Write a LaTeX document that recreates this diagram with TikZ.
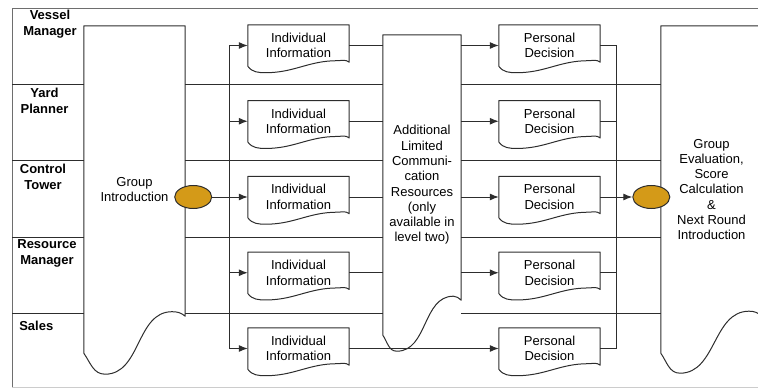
\documentclass[tikz,border=0pt]{standalone}
\usepackage{fontspec}
\setmainfont{Liberation Sans}
\usepackage{tikz}
\usetikzlibrary{shapes.geometric}
\usetikzlibrary{arrows.meta}
\usetikzlibrary{calc}

\definecolor{lineclr}{RGB}{45,45,45}
\definecolor{frameclr}{RGB}{110,110,110}
\definecolor{tokenclr}{RGB}{212,154,24}

% outline of a document box: node, rise of right end, trough pos, trough dip, crest pos, crest height
\newcommand{\docoutline}[6]{%
  \draw[flow, line join=round]
    (#1.south west) -- (#1.north west) -- (#1.north east)
    -- ([yshift=#2pt]#1.south east)
    to[out=140,in=0] ($(#1.south west)!#5!(#1.south east)+(0,#6)$)
    to[out=180,in=0] ($(#1.south west)!#3!(#1.south east)+(0,-#4)$)
    to[out=180,in=-55] (#1.south west) -- cycle;
}

\begin{document}
\begin{tikzpicture}[x=1pt,y=1pt,
  font=\fontsize{13}{15.3}\selectfont,
  flow/.style={draw=lineclr,line width=1pt},
  arr/.style={flow,-{Latex[length=9pt,width=7pt]}},
  doc/.style={minimum width=101pt,minimum height=41pt,inner sep=0pt,align=center},
  bigdoc/.style={inner sep=0pt,align=center},
  token/.style={ellipse,draw=lineclr,line width=1pt,fill=tokenclr,minimum width=37pt,minimum height=23pt,inner sep=0pt},
  lanelabel/.style={font=\fontsize{13}{16}\selectfont\bfseries,align=center}]
\useasboundingbox (0,0) rectangle (758,389);

% frame
\draw[frameclr,line width=1pt] (770,380) -- (12,380) -- (12,2);
\draw[black!20,line width=1pt] (12,2) -- (770,2);

% lane labels
\foreach \txt/\xx/\yy [count=\i] in {{Vessel\\Manager}/50/365,{Yard\\Planner}/44.5/288,{Control\\Tower}/43/212,{Resource\\Manager}/47/135.5,{Sales}/36.3/63}
{
        \node[lanelabel] (lab\i) at (\xx,\yy) {\txt};
}

% big boxes
\node[bigdoc,minimum width=101pt,minimum height=327pt] (intro) at (134.5,199.5) {Group\\Introduction};
\node[bigdoc,minimum width=78pt,minimum height=300pt] (addl) at (422,204)
        {Additional\\Limited\\Communi-\\cation\\Resources\\(only\\available in\\level two)};
\node[bigdoc,minimum width=101pt,minimum height=327pt] (eval) at (711.5,199.5)
        {Group\\Evaluation,\\Score\\Calculation\\\&\\Next Round\\Introduction};
\docoutline{intro}{37}{0.21}{21}{0.87}{41.5}
\docoutline{addl}{35}{0.18}{16}{0.9}{39}
\docoutline{eval}{37}{0.19}{20}{0.87}{42}

% rows
\foreach \i in {1,...,5}
{
        \pgfmathsetmacro{\rowy}{343.5-75.75*(\i-1)}
        \node[doc] (ii\i) at (298.5,\rowy) {Individual\\Information};
        \node[doc] (pd\i) at (549.5,\rowy) {Personal\\Decision};
        \docoutline{ii\i}{4}{0.18}{6.5}{0.88}{5.5}
        \docoutline{pd\i}{4}{0.18}{6.5}{0.88}{5.5}
}

% lane lines
\foreach \i/\yy in {1/304,2/228,3/152,4/76}
{
        \coordinate (lane\i) at (12,\yy);
        \draw[flow] (lane\i) -- (lane\i -| intro.west)
                (lane\i -| intro.east) -- (lane\i -| addl.west)
                (lane\i -| addl.east) -- (lane\i -| eval.west);
}

% buses and tokens
\coordinate (busL) at (229,0);
\coordinate (busR) at (616,0);
\node[token] (tokA) at ([xshift=8pt]intro.east |- ii3.west) {};
\node[token] (tokB) at ([xshift=-9.5pt]eval.west |- pd3.east) {};

\draw[flow] (tokA) -- (tokA -| busL);
\draw[flow] (ii1.west -| busL) -- (ii5.west -| busL);
\draw[flow] (pd1.east -| busR) -- (pd5.east -| busR);
\draw[arr] (tokB -| busR) -- (tokB.west);

\foreach \i in {1,...,5}
{
        \draw[arr] (ii\i.west -| busL) -- (ii\i.west);
        \draw[flow] (pd\i.east) -- (pd\i.east -| busR);
}
\foreach \i in {1,...,4}
{
        \draw[flow] (ii\i.east) -- (ii\i.east -| addl.west);
        \draw[arr] (pd\i.west -| addl.east) -- (pd\i.west);
}
\draw[arr] (ii5.east) -- (pd5.west);
\end{tikzpicture}
\end{document}
